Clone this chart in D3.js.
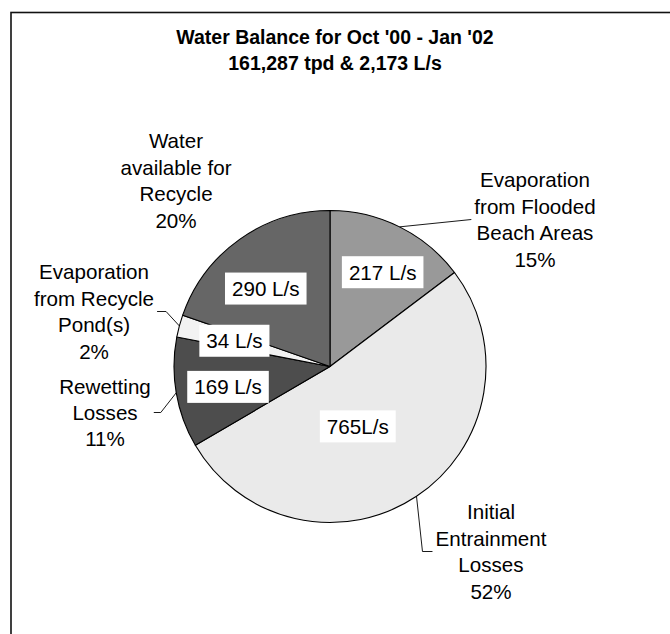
<!DOCTYPE html>
<html>
<head>
<meta charset="utf-8">
<script src="https://cdn.jsdelivr.net/npm/d3@7"></script>
<style>
  html, body { margin: 0; padding: 0; background: #ffffff; }
  svg { display: block; font-family: "Liberation Sans", Arial, sans-serif; }
</style>
</head>
<body>
<svg id="chart" width="670" height="634"></svg>
<script>
// ---- data ----
const titleLines = ["Water Balance for Oct '00 - Jan '02", "161,287 tpd & 2,173 L/s"];
const categories = [
  "Evaporation from Flooded Beach Areas",
  "Initial Entrainment Losses",
  "Rewetting Losses",
  "Evaporation from Recycle Pond(s)",
  "Water available for Recycle"
];
const values = [217, 765, 169, 34, 290];            // L/s
const valueLabels = ["217 L/s", "765L/s", "169 L/s", "34 L/s", "290 L/s"];
const percentLabels = ["15%", "52%", "11%", "2%", "20%"];
const nameLines = [
  ["Evaporation", "from Flooded", "Beach Areas"],
  ["Initial", "Entrainment", "Losses"],
  ["Rewetting", "Losses"],
  ["Evaporation", "from Recycle", "Pond(s)"],
  ["Water", "available for", "Recycle"]
];

// ---- styling / layout ----
const fills = ["#999999", "#eaeaea", "#4d4d4d", "#f2f2f2", "#666666"];
const cx = 330, cy = 366.5, R = 156;
// value label placement: radius and angle offset (deg) relative to slice mid-angle
const valuePos = [
  { r: 108, da: 2.7 },
  { r: 66,  da: 8.8 },
  { r: 104, da: -1.6 },
  { r: 99,  da: 0 },
  { r: 101, da: -4.1 }
];
// outer label block centres relative to pie centre, and leader info
const outerPos = [
  { dx: 205,  dy: -147, side: "left",  elbow: 0 },
  { dx: 161,  dy: 185,  side: "left",  elbow: 10 },
  { dx: -225, dy: 46,   side: "right", elbow: 7 },
  { dx: -236, dy: -55,  side: "right", elbow: 9 },
  { dx: -154, dy: -186, side: null,    elbow: 0 }
];
const fontSize = 20.6, lineH = 26.4;

const svg = d3.select("#chart");

// frame
svg.append("rect")
  .attr("x", 11).attr("y", 12.5)
  .attr("width", 700).attr("height", 700)
  .attr("fill", "none").attr("stroke", "#111").attr("stroke-width", 1.6);

// title
const title = svg.append("text")
  .attr("text-anchor", "middle")
  .attr("font-weight", "bold")
  .attr("font-size", 19.5)
  .attr("fill", "#000");
titleLines.forEach((t, i) => {
  title.append("tspan").attr("x", 335).attr("y", 44 + i * 26).text(t);
});

const pie = d3.pie().sort(null).value(d => d)(values);
const arc = d3.arc().innerRadius(0).outerRadius(R);

const g = svg.append("g").attr("transform", `translate(${cx},${cy})`);

g.selectAll("path.slice")
  .data(pie)
  .join("path")
  .attr("class", "slice")
  .attr("d", arc)
  .attr("fill", (d, i) => fills[i])
  .attr("stroke", "#000")
  .attr("stroke-width", 1.1)
  .attr("stroke-linejoin", "round");

const midA = d => (d.startAngle + d.endAngle) / 2;
const polar = (a, r) => [Math.sin(a) * r, -Math.cos(a) * r];

// value labels with white boxes
pie.forEach((d, i) => {
  const a = midA(d) + valuePos[i].da * Math.PI / 180;
  const [x, y] = polar(a, valuePos[i].r);
  const lg = g.append("g").attr("transform", `translate(${x},${y})`);
  const rect = lg.append("rect").attr("fill", "#fff");
  const txt = lg.append("text")
    .attr("text-anchor", "middle")
    .attr("dy", "0.36em")
    .attr("font-size", fontSize)
    .attr("fill", "#000")
    .text(valueLabels[i]);
  const w = txt.node().getComputedTextLength();
  rect.attr("x", -w / 2 - 7).attr("y", -16).attr("width", w + 14).attr("height", 32);
});

// outer category labels + leader lines
pie.forEach((d, i) => {
  const p = outerPos[i];
  const lines = nameLines[i].concat([percentLabels[i]]);
  const n = lines.length;
  const top = p.dy - (n - 1) * lineH / 2;
  const t = g.append("text")
    .attr("text-anchor", "middle")
    .attr("font-size", fontSize)
    .attr("fill", "#000");
  lines.forEach((l, k) => {
    t.append("tspan").attr("x", p.dx).attr("y", top + k * lineH).attr("dy", "0.36em").text(l);
  });
  if (p.side) {
    const bb = t.node().getBBox();
    const ex = p.side === "left" ? bb.x - 3 : bb.x + bb.width + 3;
    const ey = p.dy;
    const [sx, sy] = polar(midA(d), R);
    const elbowX = p.side === "left" ? ex - p.elbow : ex + p.elbow;
    g.append("path")
      .attr("d", d3.line()([[sx, sy], [elbowX, ey], [ex, ey]]))
      .attr("fill", "none")
      .attr("stroke", "#000")
      .attr("stroke-width", 0.9);
  }
});
</script>
</body>
</html>
